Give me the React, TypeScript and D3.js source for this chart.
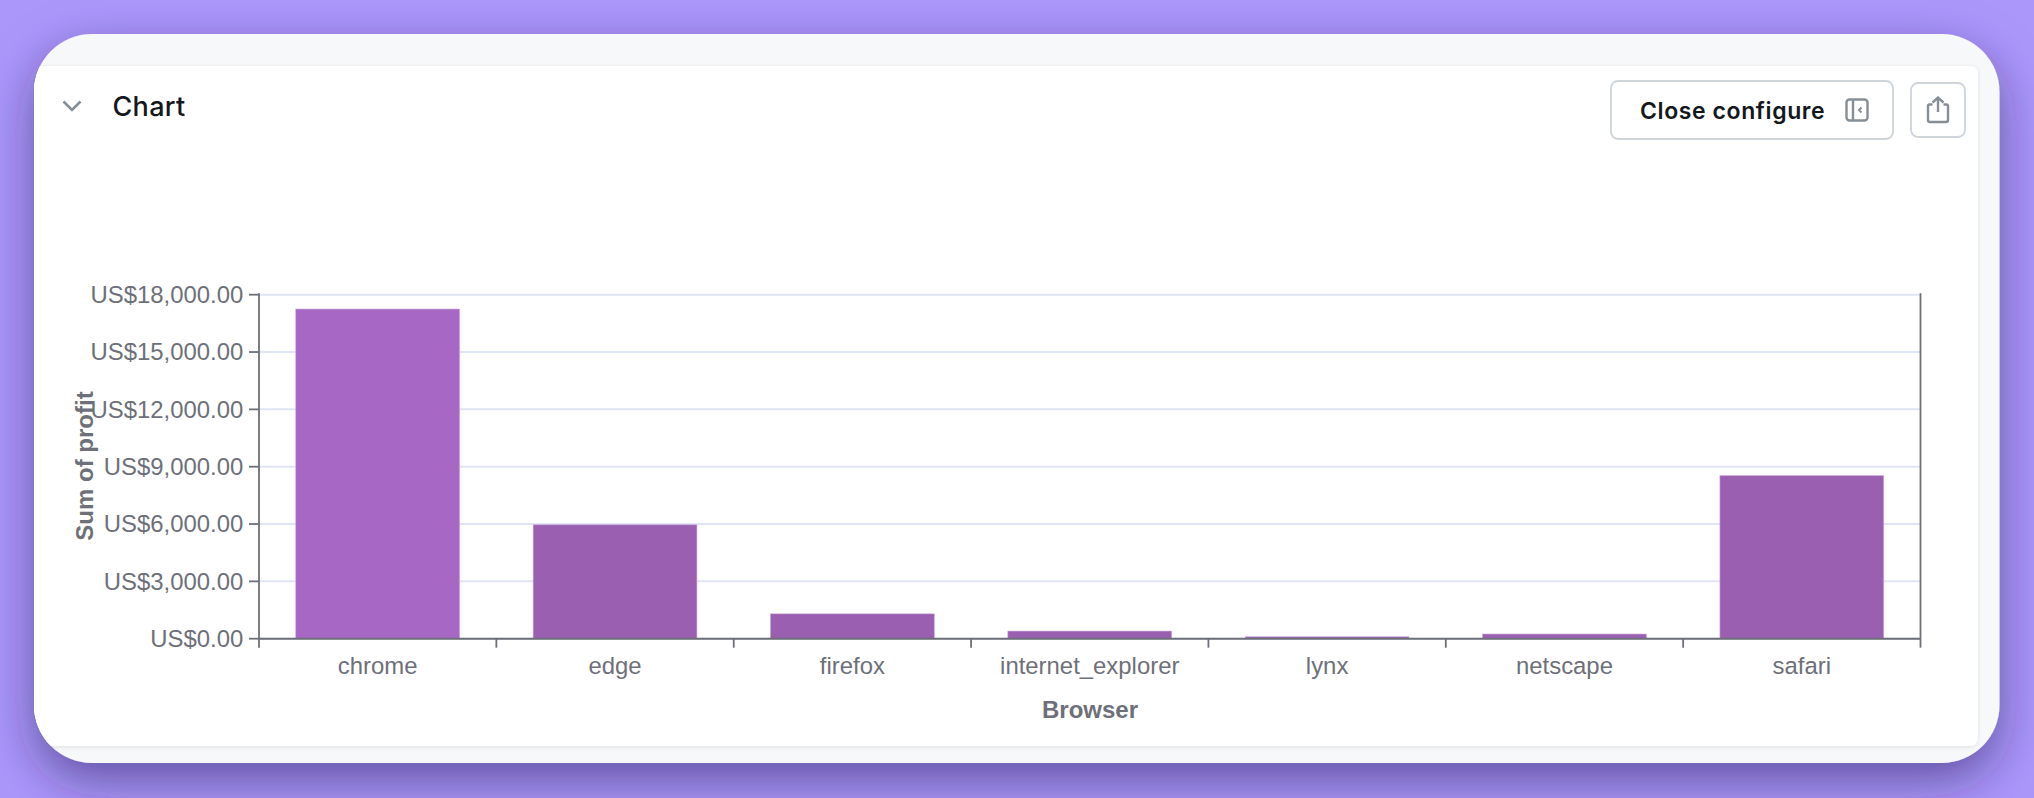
import React from "react";
import * as d3 from "d3";

const browsers = ["chrome", "edge", "firefox", "internet_explorer", "lynx", "netscape", "safari"];
const profit = [17250, 5960, 1300, 400, 100, 245, 8530];
const barColors = ["#a767c4", "#9b5fb2", "#9b5fb2", "#9b5fb2", "#9b5fb2", "#9b5fb2", "#9b5fb2"];
const yTicks = [0, 3000, 6000, 9000, 12000, 15000, 18000];

const W = 2034;
const H = 798;
const left = 259;
const right = 1920.5;
const top = 294.7;
const bottom = 638.7;
const SANS = "'Liberation Sans', Arial, sans-serif";
const UI = "Inter, 'Noto Sans', sans-serif";
const AXIS = "#6e7079";
const ICON = "#868e96";

const money = (v: number) => "US$" + d3.format(",.2f")(v);

export default function App() {
  const y = d3.scaleLinear().domain([0, 18000]).range([bottom, top]);
  const x = d3.scaleBand().domain(browsers).range([left, right]).paddingInner(0.31).paddingOuter(0.155);
  const cell = d3.scaleBand().domain(browsers).range([left, right]);

  return (
    <svg
      width={W}
      height={H}
      viewBox={`0 0 ${W} ${H}`}
      style={{ position: "absolute", left: 0, top: 0, display: "block" }}
    >
      <defs>
        <filter id="cardShadow" x="-10%" y="-20%" width="120%" height="150%">
          <feDropShadow dx="0" dy="18" stdDeviation="24" floodColor="#2c2360" floodOpacity="0.55" />
        </filter>
        <filter id="panelShadow" x="-2%" y="-2%" width="104%" height="104%">
          <feDropShadow dx="0" dy="1" stdDeviation="2" floodColor="#000" floodOpacity="0.1" />
        </filter>
        <clipPath id="cardClip">
          <rect x={34} y={34} width={1965.5} height={729} rx={58} />
        </clipPath>
      </defs>

      <rect width={W} height={H} fill="#ab97fa" />
      <rect x={34} y={34} width={1965.5} height={729} rx={58} fill="#f7f8fa" filter="url(#cardShadow)" />
      <g clipPath="url(#cardClip)">
        <rect x={34} y={66} width={1944} height={680} rx={8} fill="#fff" filter="url(#panelShadow)" />
        <rect x={30} y={66} width={30} height={680} fill="#fff" />
      </g>

      {/* header */}
      <path d="M63.5 101.5 L72 110 L80.5 101.5" fill="none" stroke={ICON} strokeWidth={2.6} />
      <text x={112.5} y={115.5} fontFamily={UI} fontSize={27} letterSpacing={0.3} fontWeight={500} fill="#14171c">
        Chart
      </text>

      <rect x={1611} y={81} width={282} height={58} rx={7} fill="#fff" stroke="#ced4da" strokeWidth={1.8} />
      <text x={1640} y={119} fontFamily={UI} fontSize={23} letterSpacing={0.6} fontWeight={600} fill="#14171c">
        Close configure
      </text>
      <rect x={1846.5} y={99.5} width={21} height={21} rx={3} fill="none" stroke={ICON} strokeWidth={2.4} />
      <path d="M1853 99.5 V120.5" stroke={ICON} strokeWidth={2.4} />
      <path d="M1861.5 107.5 L1859 110 L1861.5 112.5" fill="none" stroke={ICON} strokeWidth={2} />

      <rect x={1911} y={83} width={54} height={54} rx={7} fill="#fff" stroke="#ced4da" strokeWidth={1.8} />
      <path
        d="M1932.5 104.5 H1929.5 a1.5 1.5 0 0 0 -1.5 1.5 V120 a2 2 0 0 0 2 2 H1946 a2 2 0 0 0 2 -2 V106 a1.5 1.5 0 0 0 -1.5 -1.5 H1943.5 M1938 112 V98 M1932.5 102.5 L1938 97.5 L1943.5 102.5"
        fill="none"
        stroke={ICON}
        strokeWidth={2.4}
      />

      {/* grid */}
      {yTicks.map((t) => (
        <line key={t} x1={left} x2={right} y1={y(t)} y2={y(t)} stroke="#dfe5f4" strokeWidth={2} />
      ))}

      {/* bars */}
      {browsers.map((b, i) => (
        <rect
          key={b}
          x={x(b)}
          y={y(profit[i])}
          width={x.bandwidth()}
          height={bottom - y(profit[i])}
          fill={barColors[i]}
          stroke="#c9a6da"
          strokeWidth={0.6}
        />
      ))}

      {/* y axis */}
      <line x1={left} x2={left} y1={top - 1.5} y2={bottom} stroke={AXIS} strokeWidth={1.8} />
      <line x1={right} x2={right} y1={top - 1.5} y2={bottom} stroke={AXIS} strokeWidth={1.8} />
      {yTicks.map((t) => (
        <g key={t}>
          <line x1={left - 10} x2={left} y1={y(t)} y2={y(t)} stroke={AXIS} strokeWidth={1.8} />
          <text x={243.3} y={y(t)} dy="0.35em" textAnchor="end" fontFamily={SANS} fontSize={23.9} fill={AXIS}>
            {money(t)}
          </text>
        </g>
      ))}

      {/* x axis */}
      <line x1={left} x2={right} y1={bottom} y2={bottom} stroke={AXIS} strokeWidth={2} />
      {[...browsers.map((b) => cell(b) as number), right].map((px) => (
        <line key={px} x1={px} x2={px} y1={bottom} y2={bottom + 9} stroke={AXIS} strokeWidth={1.8} />
      ))}
      {browsers.map((b) => (
        <text
          key={b}
          x={(x(b) as number) + x.bandwidth() / 2}
          y={673.5}
          textAnchor="middle"
          fontFamily={SANS}
          fontSize={23.9}
          fill={AXIS}
        >
          {b}
        </text>
      ))}

      <text x={1090} y={718} textAnchor="middle" fontFamily={SANS} fontSize={24} fontWeight={700} fill={AXIS}>
        Browser
      </text>
      <text
        transform="translate(93.3,466) rotate(-90)"
        textAnchor="middle"
        fontFamily={SANS}
        fontSize={24}
        fontWeight={700}
        fill={AXIS}
      >
        Sum of profit
      </text>
    </svg>
  );
}
